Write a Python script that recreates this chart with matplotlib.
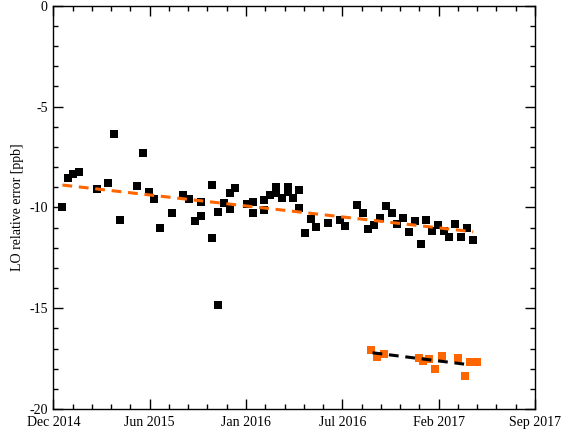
import matplotlib
matplotlib.use("Agg")
import matplotlib.pyplot as plt
import matplotlib.dates as mdates
import numpy as np
from matplotlib.ticker import FixedLocator, MultipleLocator

# Zeitachse: Tage seit Achsenbeginn
START = np.datetime64("2014-12-01")
ENDE = np.datetime64("2017-09-01")

# schwarze Messpunkte
lo_tage = [19, 31, 42, 54, 92, 115, 127, 140, 175, 188, 200, 211, 223, 248,
           271, 284, 296, 309, 309, 332, 332, 344, 344, 357, 369, 369, 380,
           405, 417, 417, 440, 440, 453, 465, 465, 478, 490, 490, 501, 513,
           513, 526, 538, 549, 574, 599, 609, 634, 647, 657, 670, 682, 695,
           707, 718, 730, 743, 755, 768, 778, 791, 803, 816, 826, 839, 851,
           864, 876]
lo_fehler = [-9.99, -8.56, -8.36, -8.26, -9.10, -8.80, -6.34, -10.63, -8.95,
             -7.32, -9.25, -9.60, -11.03, -10.29, -9.38, -9.60, -10.68, -10.42,
             -9.74, -8.90, -11.52, -10.24, -14.86, -9.79, -9.30, -10.09, -9.05,
             -9.84, -9.74, -10.29, -9.64, -10.14, -9.40, -9.00, -9.30, -9.55,
             -9.00, -9.25, -9.55, -9.15, -10.04, -11.27, -10.58, -10.98,
             -10.78, -10.63, -10.93, -9.89, -10.29, -11.08, -10.88, -10.53,
             -9.94, -10.29, -10.83, -10.53, -11.22, -10.68, -11.82, -10.63,
             -11.18, -10.88, -11.18, -11.47, -10.83, -11.47, -11.03, -11.62]

# orange Messpunkte
neu_tage = [663, 676, 689, 762, 772, 784, 797, 810, 845, 858, 870, 883]
neu_fehler = [-17.05, -17.40, -17.25, -17.45, -17.60, -17.50, -18.04, -17.35,
              -17.45, -18.34, -17.69, -17.69]

# Trendlinien (Endpunkte)
trend_lo_tage = [19, 876]
trend_lo_fehler = [-8.89, -11.21]
trend_neu_tage = [666, 870]
trend_neu_fehler = [-17.21, -17.81]

tick_labels = ["Dec 2014", "Jun 2015", "Jan 2016", "Jul 2016", "Feb 2017", "Sep 2017"]

ORANGE = "#ff6600"


def zu_datum(tage):
    return mdates.date2num(START + np.array(tage).astype("timedelta64[D]"))


plt.rcParams["font.family"] = ["Liberation Serif", "DejaVu Serif"]
plt.rcParams["axes.unicode_minus"] = False

fig = plt.figure(figsize=(5.71, 4.34), dpi=100)
ax = fig.add_axes([0.0934, 0.0576, 0.8436, 0.9290])

ax.plot(zu_datum(lo_tage), lo_fehler, "s", color="black", markersize=6.0,
        markeredgewidth=0)
ax.plot(zu_datum(neu_tage), neu_fehler, "s", color=ORANGE, markersize=6.0,
        markeredgewidth=0)
ax.plot(zu_datum(trend_lo_tage), trend_lo_fehler, color=ORANGE, lw=2.2,
        dashes=(3.2, 2.2))
ax.plot(zu_datum(trend_neu_tage), trend_neu_fehler, color="black", lw=2.2,
        dashes=(3.2, 2.2))

x0, x1 = mdates.date2num(START), mdates.date2num(ENDE)
ax.set_xlim(x0, x1)
ax.set_ylim(-20, 0)

major_x = np.linspace(x0, x1, 6)
ax.xaxis.set_major_locator(FixedLocator(major_x))
ax.xaxis.set_minor_locator(FixedLocator(np.linspace(x0, x1, 26)))
ax.set_xticklabels(tick_labels)
ax.yaxis.set_major_locator(MultipleLocator(5))
ax.yaxis.set_minor_locator(MultipleLocator(1))

ax.tick_params(which="both", direction="in", top=True, right=True,
               labelsize=10, width=1.0, colors="black")
ax.tick_params(which="major", length=7)
ax.tick_params(which="minor", length=3.6)
ax.tick_params(axis="x", pad=5)
ax.tick_params(axis="y", pad=4)
for s in ax.spines.values():
    s.set_linewidth(1.0)

ax.set_ylabel("LO relative error [ppb]", fontsize=10, labelpad=4)

plt.savefig("out.png", dpi=100)
